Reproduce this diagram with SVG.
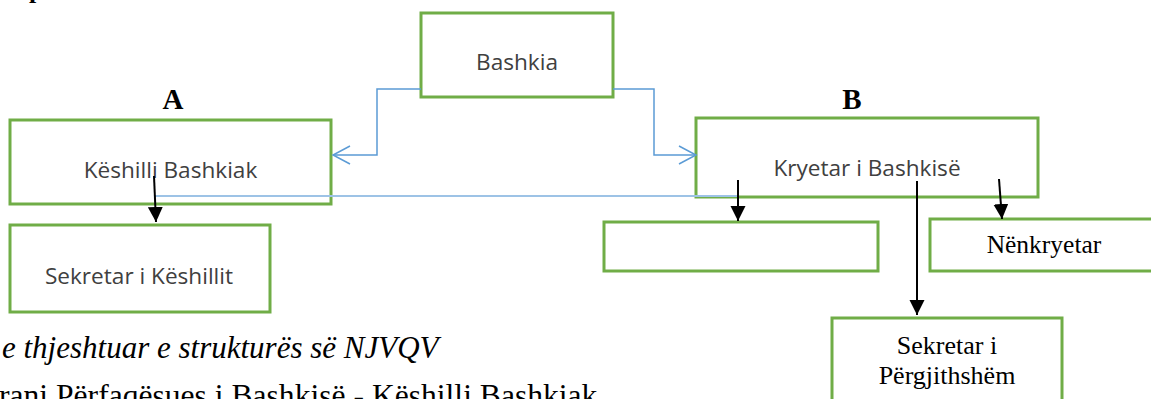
<svg xmlns="http://www.w3.org/2000/svg" width="1151" height="399" viewBox="0 0 1151 399">
<style>
.box{fill:#fff;stroke:#70ad47;stroke-width:3}
.lbl{font-family:"Open Sans","Noto Sans",sans-serif;font-size:22.6px;fill:#404040;text-anchor:middle}
.ser{font-family:"Liberation Serif","Times New Roman",serif;fill:#000}
.head{font-family:"Liberation Serif","Times New Roman",serif;font-weight:bold;font-size:29px;fill:#000;text-anchor:middle}
.blue{fill:none;stroke:#5b9bd5;stroke-width:1.5}
.lblue{fill:none;stroke:#9dc3e6;stroke-width:2}
.blk{fill:none;stroke:#000;stroke-width:2;marker-end:url(#ah)}
</style>
<defs>
<marker id="ah" markerUnits="userSpaceOnUse" markerWidth="16" markerHeight="16" refX="15" refY="7.5" orient="auto">
<path d="M0,0 L15,7.5 L0,15 Z" fill="#000"/>
</marker>
</defs>
<text class="ser" x="29" y="-2" font-size="26" font-weight="bold">p</text>
<text class="head" x="173" y="109">A</text>
<text class="head" x="852" y="109">B</text>
<g id="bashkia"><rect class="box" x="421" y="13" width="192" height="84"/><text class="lbl" x="517" y="70">Bashkia</text></g>
<g id="keshilli"><rect class="box" x="10" y="120" width="321" height="84"/><text class="lbl" x="170.5" y="178">Këshilli Bashkiak</text></g>
<g id="kryetar"><rect class="box" x="696" y="118" width="342" height="79"/><text class="lbl" x="867" y="176">Kryetar i Bashkisë</text></g>
<g id="sekretar-k"><rect class="box" x="10" y="225" width="260" height="87"/><text class="lbl" x="139" y="284">Sekretar i Këshillit</text></g>
<g id="bosh"><rect class="box" x="604" y="222" width="274" height="49"/></g>
<g id="nenkryetar"><rect class="box" x="930" y="219" width="228" height="52"/><text class="ser" x="1044" y="253" font-size="25.5" text-anchor="middle">Nënkryetar</text></g>
<g id="sekretar-p"><rect class="box" x="832" y="318" width="230" height="110"/><text class="ser" x="947" y="354" font-size="26" text-anchor="middle">Sekretar i</text><text class="ser" x="947" y="384" font-size="26" text-anchor="middle">Përgjithshëm</text></g>
<g id="connectors">
<polyline class="blue" points="421,89 377,89 377,155 334,155"/>
<polyline class="blue" points="350,146 333,155 350,164"/>
<polyline class="blue" points="613,89 654,89 654,155 695,155"/>
<polyline class="blue" points="679,146 696,155 679,164"/>
<line class="lblue" x1="155" y1="196" x2="738" y2="196"/>
<line class="blk" x1="154" y1="176" x2="156" y2="222"/>
<line class="blk" x1="738" y1="180" x2="738" y2="221"/>
<line class="blk" x1="999" y1="179" x2="1002" y2="219"/>
<line class="blk" x1="917" y1="181" x2="917" y2="315"/>
</g>
<text class="ser" x="2" y="358" font-size="31" font-style="italic">e thjeshtuar e strukturës së NJVQV</text>
<text class="ser" x="-1" y="406" font-size="31.6">rani Përfaqësues i Bashkisë - Këshilli Bashkiak</text>
</svg>
